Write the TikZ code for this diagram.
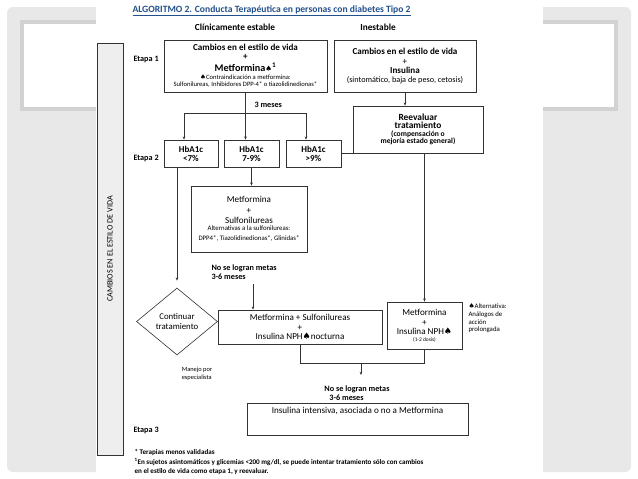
\documentclass[tikz,border=0pt]{standalone}
\usepackage{fontspec}
\setmainfont{Carlito}
\newfontfamily\symfont{DejaVu Sans}
\usepackage{tikz}
\usetikzlibrary{arrows.meta, shapes.geometric, positioning}
\definecolor{titleblue}{RGB}{34,80,140}
\definecolor{slidegray}{RGB}{232,232,232}
\definecolor{framegray}{RGB}{210,210,210}
\newcommand{\spd}{{\symfont ♠}}

\begin{document}
\begin{tikzpicture}[x=1pt,y=-1pt,
        box/.style={draw=black!80, line width=0.6pt, align=center, inner sep=1pt, font=\fontsize{9.1}{9.4}\selectfont},
        flow/.style={draw=black!80, line width=0.6pt},
        arr/.style={flow, -{Stealth[length=3.2pt,width=2.6pt]}},
        etapa/.style={anchor=west, font=\bfseries\fontsize{8.2}{9}\selectfont},
        note/.style={align=left, font=\bfseries\fontsize{8.2}{8.8}\selectfont},
        small/.style={font=\fontsize{6.8}{7.2}\selectfont}]

        % fondo
        \useasboundingbox (0,0) rectangle (638,479);
        \fill [white] (0,0) rectangle (638,479);
        \fill [slidegray, rounded corners=6pt] (7,7) rectangle (631,472);
        \draw [framegray, line width=4.5pt, fill=white] (22,22) rectangle (616,109);
        \fill [white] (96,0) rectangle (543,479);

        % titulo
        \node [anchor=west, text=titleblue, font=\bfseries\fontsize{9.6}{10}\selectfont] (title) at (129,11)
            {\underline{ALGORITMO 2. Conducta Terapéutica en personas con diabetes Tipo 2}};
        \node [font=\bfseries\fontsize{9.3}{10}\selectfont] (hestable) at (235,27) {Clínicamente estable};
        \node [font=\bfseries\fontsize{9.3}{10}\selectfont] (hinest) at (378,27) {Inestable};

        % columna lateral
        \node [draw=black!80, line width=0.6pt, fill=gray!13, rotate=90, minimum width=412pt,
            minimum height=26pt, font=\fontsize{8.2}{8.5}\selectfont] (side) at (110,249) {CAMBIOS EN EL ESTILO DE VIDA};

        % etapas
        \node [etapa] (lab1) at (130,59) {Etapa 1};
        \node [etapa] (lab2) at (130,158) {Etapa 2};
        \node [etapa] (lab3) at (130,430) {Etapa 3};

        % etapa 1
        \node [box, minimum width=163pt, minimum height=52pt] (et1L) at (245.5,66)
            {{\bfseries Cambios en el estilo de vida}\\[-0.5pt]{\bfseries +}\\[2pt]
             {\bfseries\fontsize{10.2}{10.5}\selectfont Metformina{\fontsize{7.5}{8}\selectfont\spd}\textsuperscript{1}}\\[-1pt]
             {\fontsize{6.6}{7}\selectfont\spd Contraindicación a metformina:}\\[-2.5pt]
             {\fontsize{6.6}{7}\selectfont Sulfonilureas, Inhibidores DPP-4* o tiazolidinedionas*}};
        \node [box, minimum width=142pt, minimum height=52pt] (et1R) at (405,66)
            {{\bfseries Cambios en el estilo de vida}\\+\\{\bfseries Insulina}\\[-1pt]
             {\fontsize{8.2}{8.5}\selectfont (sintomático, baja de peso, cetosis)}};
        \node [box, minimum width=130pt, minimum height=47pt] (reev) at (418,129.5)
            {{\bfseries\fontsize{9.4}{9.5}\selectfont Reevaluar}\\[-1pt]{\bfseries\fontsize{9.4}{9.5}\selectfont tratamiento}\\[-2pt]
             {\bfseries\fontsize{7.6}{8}\selectfont (compensación o}\\[-2pt]
             {\bfseries\fontsize{7.6}{8}\selectfont mejoría estado general)}};

        % etapa 2
        \node [box, font=\bfseries\fontsize{9}{9.2}\selectfont, minimum width=54pt, minimum height=27pt] (h1) at (191,153.5) {HbA1c\\<7\%};
        \node [box, font=\bfseries\fontsize{9}{9.2}\selectfont, minimum width=55pt, minimum height=27pt] (h2) at (251.5,153.5) {HbA1c\\7-9\%};
        \node [box, font=\bfseries\fontsize{9}{9.2}\selectfont, minimum width=55pt, minimum height=27pt] (h3) at (313.5,153.5) {HbA1c\\>9\%};
        \node [box, minimum width=116pt, minimum height=66pt] (ms) at (249,219)
            {Metformina\\[1pt]+\\[1pt]Sulfonilureas\\[-2.5pt]
             {\fontsize{6.8}{7}\selectfont Alternativas a la sulfonilureas:}\\[0.5pt]
             {\fontsize{6.8}{7}\selectfont DPP4*, Tiazolidinedionas*, Glinidas*}};

        \node [draw=black!80, line width=0.6pt, diamond, aspect=1.21, minimum width=81pt, minimum height=67pt,
            inner sep=0pt, align=center, font=\fontsize{8.8}{9.3}\selectfont] (cont) at (177,321.5) {Continuar\\tratamiento};
        \node [box, minimum width=164pt, minimum height=34pt] (msn) at (300,327)
            {Metformina + Sulfonilureas\\+\\Insulina NPH\spd nocturna};
        \node [box, minimum width=75pt, minimum height=47pt] (npn) at (424.5,325.5)
            {Metformina\\[0.5pt]+\\Insulina NPH\spd\\[-2.5pt]{\fontsize{5.4}{6}\selectfont (1-2 dosis)}};

        \node [note, anchor=north west] (nolog1) at (208,261) {No se logran metas\\3-6 meses};
        \node [note, align=left] (nolog2) at (357,393) {No se logran metas\\\hspace{5pt}3-6 meses};
        \node [small, align=left, font=\fontsize{6.4}{7.4}\selectfont] (manejo) at (197,374) {Manejo por\\especialista};
        \node [small, anchor=north west, align=left, font=\fontsize{6.8}{7.8}\selectfont] (alt) at (465,300)
            {\spd Alternativa:\\Análogos de\\acción\\prolongada};

        % etapa 3
        \node [box, minimum width=221pt, text height=7pt, text depth=18pt, inner ysep=3.5pt] (fin) at (357.5,419)
            {Insulina intensiva, asociada o no a Metformina};

        % notas
        \node [anchor=west, font=\bfseries\fontsize{7.1}{8}\selectfont] (fn1) at (131,453) {* Terapias menos validadas};
        \node [anchor=west, font=\bfseries\fontsize{7.1}{8}\selectfont] (fn2) at (131,462)
            {\textsuperscript{1}En sujetos asintomáticos y glicemias <200 mg/dl, se puede intentar tratamiento sólo con cambios};
        \node [anchor=west, font=\bfseries\fontsize{7.1}{8}\selectfont] (fn3) at (131,472)
            {en el estilo de vida como etapa 1, y reevaluar.};

        % conectores
        \coordinate (t1) at (184,113);
        \coordinate (t3) at (306,113);
        \node [note, anchor=west] (tres) at (251,105) {3 meses};
        \draw [flow] (et1L.south) -- (et1L.south |- t1);
        \draw [flow] (t1) -- (t3);
        \draw [arr] (t1) -- (t1 |- h1.north);
        \draw [arr] (et1L.south |- t1) -- (et1L.south |- h2.north);
        \draw [arr] (t3) -- (t3 |- h3.north);
        \draw [arr] (et1R.south) -- (et1R.south |- reev.north);

        \draw [arr] (h2.south) -- (h2.south |- ms.north);
        \draw [arr, shorten >=7pt] (cont.north |- h1.south) -- (cont.north);
        \draw [arr] (h3.east) -| (npn.north);

        \coordinate (nl1) at (253,284);
        \draw [arr] (nl1) -- (nl1 |- msn.north);

        \coordinate (jrow) at (0,363);
        \draw [flow] (msn.south) |- (npn.south |- jrow) -- (npn.south);
        \coordinate (j2) at (361,363);
        \coordinate (j3) at (361,375);
        \draw [arr] (j2) -- (j3);
\end{tikzpicture}
\end{document}
